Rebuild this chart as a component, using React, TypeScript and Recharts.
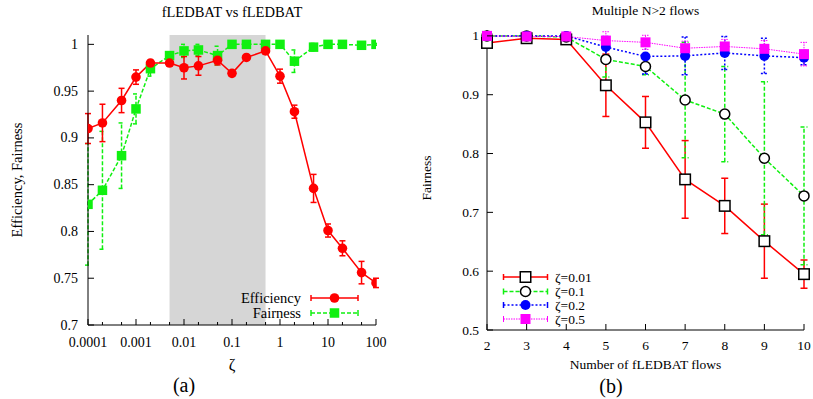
import React from 'react';
import { LineChart, Line, XAxis, YAxis, ErrorBar, ReferenceArea } from 'recharts';

const FONT = '"Liberation Serif", "Times New Roman", serif';

// ---------- Left chart (a): fLEDBAT vs fLEDBAT ----------
const zeta = [0.0001, 0.0002, 0.0005, 0.001, 0.002, 0.005, 0.01, 0.02, 0.05, 0.1, 0.2, 0.5, 1, 2, 5, 10, 20, 50, 100];
const efficiency = [0.910, 0.916, 0.940, 0.965, 0.980, 0.980, 0.975, 0.977, 0.983, 0.969, 0.986, 0.993, 0.966, 0.928, 0.846, 0.801, 0.782, 0.756, 0.745];
const efficiencyErr = [0.016, 0.02, 0.013, 0.0077, 0.003, 0.002, 0.012, 0.01, 0.005, 0.002, 0.002, 0.002, 0.0075, 0.007, 0.015, 0.007, 0.008, 0.012, 0.005];
const fairness = [0.829, 0.844, 0.881, 0.931, 0.974, 0.988, 0.993, 0.994, 0.988, 1.0, 1.0, 1.0, 1.0, 0.982, 0.997, 1.0, 1.0, 0.999, 1.0];
const fairnessErr = [0.065, 0.063, 0.035, 0.016, 0.008, 0.002, 0.007, 0.006, 0.01, 0.001, 0.001, 0.001, 0.001, 0.012, 0.004, 0.001, 0.001, 0.001, 0.001];
const zetaMajorTicks = [0.0001, 0.001, 0.01, 0.1, 1, 10, 100];
const zetaMajorLabels = ['0.0001', '0.001', '0.01', '0.1', '1', '10', '100'];
const zetaMinorTicks = [0.0002, 0.0005, 0.002, 0.005, 0.02, 0.05, 0.2, 0.5, 2, 5, 20, 50];
const leftYTicks = [0.7, 0.75, 0.8, 0.85, 0.9, 0.95, 1];
const leftYLabels = ['0.7', '0.75', '0.8', '0.85', '0.9', '0.95', '1'];
const leftYDomain = [0.7, 1.01];
const zetaDomain = [0.0001, 100];
const shadedRange = [0.005, 0.5];
const leftSeriesNames = ['Efficiency', 'Fairness'];

// ---------- Right chart (b): Multiple N>2 flows ----------
const flows = [2, 3, 4, 5, 6, 7, 8, 9, 10];
const fair001 = [0.988, 0.996, 0.994, 0.916, 0.853, 0.756, 0.711, 0.651, 0.595];
const fair001Err = [0.004, 0.003, 0.003, 0.053, 0.044, 0.066, 0.047, 0.063, 0.024];
const fair01 = [1.0, 1.0, 0.998, 0.960, 0.948, 0.891, 0.867, 0.792, 0.728];
const fair01Err = [0.002, 0.002, 0.003, 0.03, 0.014, 0.098, 0.081, 0.13, 0.117];
const fair02 = [1.0, 1.0, 1.0, 0.981, 0.965, 0.966, 0.971, 0.966, 0.963];
const fair02Err = [0.001, 0.001, 0.001, 0.018, 0.03, 0.032, 0.028, 0.03, 0.012];
const fair05 = [1.0, 0.999, 0.999, 0.992, 0.989, 0.979, 0.982, 0.978, 0.969];
const fair05Err = [0.001, 0.001, 0.001, 0.015, 0.012, 0.012, 0.012, 0.014, 0.02];
const flowTicks = [2, 3, 4, 5, 6, 7, 8, 9, 10];
const rightYTicks = [0.5, 0.6, 0.7, 0.8, 0.9, 1];
const rightYLabels = ['0.5', '0.6', '0.7', '0.8', '0.9', '1'];
const rightYDomain = [0.5, 1.01];
const rightSeriesNames = ['ζ=0.01', 'ζ=0.1', 'ζ=0.2', 'ζ=0.5'];

const leftData = zeta.map((z, i) => ({
  zeta: z,
  eff: efficiency[i],
  effErr: efficiencyErr[i],
  fair: fairness[i],
  fairErr: fairnessErr[i],
}));

const rightData = flows.map((n, i) => ({
  n,
  a: fair001[i],
  aErr: fair001Err[i],
  b: fair01[i],
  bErr: fair01Err[i],
  c: fair02[i],
  cErr: fair02Err[i],
  d: fair05[i],
  dErr: fair05Err[i],
}));

const RED = '#ff0000';
const GREEN = '#10f010';
const BLUE = '#0000ff';
const MAGENTA = '#ff00ff';

const findLabel = (ticks: number[], labels: string[], v: number) => {
  const i = ticks.findIndex((t) => Math.abs(t - v) <= Math.abs(t) * 1e-9);
  return i >= 0 ? labels[i] : undefined;
};

const makeBottomTick = (ticks: number[], labels: string[], margin: number, fontSize: number) => (props: any) => {
  const { x, y, payload } = props;
  const label = findLabel(ticks, labels, payload.value);
  const ay = y - margin;
  const len = label !== undefined ? 6 : 3;
  return (
    <g>
      <line x1={x} x2={x} y1={ay} y2={ay - len} stroke="#000" strokeWidth={1} />
      {label !== undefined && (
        <text x={x} y={y} textAnchor="middle" dominantBaseline="central" fontFamily={FONT} fontSize={fontSize} fill="#000">
          {label}
        </text>
      )}
    </g>
  );
};

const makeTopTick = (ticks: number[]) => (props: any) => {
  const { x, y, payload } = props;
  const major = findLabel(ticks, ticks.map(String), payload.value) !== undefined;
  return <line x1={x} x2={x} y1={y} y2={y + (major ? 6 : 3)} stroke="#000" strokeWidth={1} />;
};

const makeLeftTick = (ticks: number[], labels: string[], margin: number, fontSize: number) => (props: any) => {
  const { x, y, payload } = props;
  const label = findLabel(ticks, labels, payload.value);
  const ax = x + margin;
  return (
    <g>
      <line x1={ax} x2={ax + 6} y1={y} y2={y} stroke="#000" strokeWidth={1} />
      <text x={x} y={y} textAnchor="end" dominantBaseline="central" fontFamily={FONT} fontSize={fontSize} fill="#000">
        {label}
      </text>
    </g>
  );
};

const RightTick = (props: any) => {
  const { x, y } = props;
  return <line x1={x} x2={x - 6} y1={y} y2={y} stroke="#000" strokeWidth={1} />;
};

const circleDot = (r: number, fill: string, stroke: string, sw: number) => (props: any) => {
  const { cx, cy, index } = props;
  if (cx == null || cy == null) return <g key={`c${index}`} />;
  return <circle key={`c${index}`} cx={cx} cy={cy} r={r} fill={fill} stroke={stroke} strokeWidth={sw} />;
};

const squareDot = (s: number, fill: string, stroke: string, sw: number) => (props: any) => {
  const { cx, cy, index } = props;
  if (cx == null || cy == null) return <g key={`s${index}`} />;
  return <rect key={`s${index}`} x={cx - s / 2} y={cy - s / 2} width={s} height={s} fill={fill} stroke={stroke} strokeWidth={sw} />;
};

const allZetaTicks = [...zetaMajorTicks, ...zetaMinorTicks].sort((a, b) => a - b);

function LeftChart() {
  return (
    <LineChart width={400} height={399} data={leftData} margin={{ top: 35, right: 24, bottom: 44, left: 0 }}>
      <ReferenceArea x1={shadedRange[0]} x2={shadedRange[1]} fill="#d6d6d6" fillOpacity={1} stroke="none" ifOverflow="visible" />
      <XAxis
        dataKey="zeta"
        type="number"
        scale="log"
        domain={zetaDomain}
        allowDataOverflow
        ticks={allZetaTicks}
        interval={0}
        height={30}
        tickSize={0}
        tickMargin={17}
        tickLine={false}
        axisLine={{ stroke: '#000', strokeWidth: 1 }}
        tick={makeBottomTick(zetaMajorTicks, zetaMajorLabels, 17, 14)}
      />
      <XAxis
        xAxisId="top"
        orientation="top"
        dataKey="zeta"
        type="number"
        scale="log"
        domain={zetaDomain}
        allowDataOverflow
        ticks={allZetaTicks}
        interval={0}
        height={0}
        tickSize={0}
        tickMargin={0}
        tickLine={false}
        axisLine={{ stroke: '#000', strokeWidth: 1 }}
        tick={makeTopTick(zetaMajorTicks)}
      />
      <YAxis
        type="number"
        domain={leftYDomain}
        allowDataOverflow
        ticks={leftYTicks}
        interval={0}
        width={88}
        tickSize={0}
        tickMargin={10}
        tickLine={false}
        axisLine={{ stroke: '#000', strokeWidth: 1 }}
        tick={makeLeftTick(leftYTicks, leftYLabels, 10, 14)}
      />
      <YAxis
        yAxisId="right"
        orientation="right"
        type="number"
        domain={leftYDomain}
        allowDataOverflow
        ticks={leftYTicks}
        interval={0}
        width={0}
        tickSize={0}
        tickMargin={0}
        tickLine={false}
        axisLine={{ stroke: '#000', strokeWidth: 1 }}
        tick={RightTick}
      />
      <Line
        dataKey="fair"
        name={leftSeriesNames[1]}
        stroke={GREEN}
        strokeWidth={1.5}
        strokeDasharray="4 2"
        isAnimationActive={false}
        dot={squareDot(9.5, GREEN, 'none', 0)}
      >
        <ErrorBar dataKey="fairErr" direction="y" width={3} stroke={GREEN} strokeWidth={1.5} strokeDasharray="4 2" isAnimationActive={false} />
      </Line>
      <Line
        dataKey="eff"
        name={leftSeriesNames[0]}
        stroke={RED}
        strokeWidth={1.5}
        isAnimationActive={false}
        dot={circleDot(4.8, RED, 'none', 0)}
      >
        <ErrorBar dataKey="effErr" direction="y" width={3} stroke={RED} strokeWidth={1.5} isAnimationActive={false} />
      </Line>
    </LineChart>
  );
}

function RightChart() {
  return (
    <LineChart width={413} height={399} data={rightData} margin={{ top: 30, right: 9, bottom: 39, left: 0 }}>
      <XAxis
        dataKey="n"
        type="number"
        domain={[flowTicks[0], flowTicks[flowTicks.length - 1]]}
        ticks={flowTicks}
        interval={0}
        height={30}
        tickSize={0}
        tickMargin={15}
        tickLine={false}
        axisLine={{ stroke: '#000', strokeWidth: 1 }}
        tick={makeBottomTick(flowTicks, flowTicks.map(String), 15, 13.5)}
      />
      <XAxis
        xAxisId="top"
        orientation="top"
        dataKey="n"
        type="number"
        domain={[flowTicks[0], flowTicks[flowTicks.length - 1]]}
        ticks={flowTicks}
        interval={0}
        height={0}
        tickSize={0}
        tickMargin={0}
        tickLine={false}
        axisLine={{ stroke: '#000', strokeWidth: 1 }}
        tick={makeTopTick(flowTicks)}
      />
      <YAxis
        type="number"
        domain={rightYDomain}
        allowDataOverflow
        ticks={rightYTicks}
        interval={0}
        width={87}
        tickSize={0}
        tickMargin={8}
        tickLine={false}
        axisLine={{ stroke: '#000', strokeWidth: 1 }}
        tick={makeLeftTick(rightYTicks, rightYLabels, 8, 13.5)}
      />
      <YAxis
        yAxisId="right"
        orientation="right"
        type="number"
        domain={rightYDomain}
        allowDataOverflow
        ticks={rightYTicks}
        interval={0}
        width={0}
        tickSize={0}
        tickMargin={0}
        tickLine={false}
        axisLine={{ stroke: '#000', strokeWidth: 1 }}
        tick={RightTick}
      />
      <Line dataKey="a" name={rightSeriesNames[0]} stroke={RED} strokeWidth={1.5} isAnimationActive={false} dot={squareDot(10.5, '#fff', '#000', 1.5)}>
        <ErrorBar dataKey="aErr" direction="y" width={3.5} stroke={RED} strokeWidth={1.5} isAnimationActive={false} />
      </Line>
      <Line dataKey="b" name={rightSeriesNames[1]} stroke={GREEN} strokeWidth={1.5} strokeDasharray="4 2" isAnimationActive={false} dot={circleDot(5, '#fff', '#000', 1.5)}>
        <ErrorBar dataKey="bErr" direction="y" width={3.5} stroke={GREEN} strokeWidth={1.5} strokeDasharray="4 2" isAnimationActive={false} />
      </Line>
      <Line dataKey="c" name={rightSeriesNames[2]} stroke={BLUE} strokeWidth={1.5} strokeDasharray="2 2" isAnimationActive={false} dot={circleDot(5, BLUE, 'none', 0)}>
        <ErrorBar dataKey="cErr" direction="y" width={3.5} stroke={BLUE} strokeWidth={1.5} strokeDasharray="2 2" isAnimationActive={false} />
      </Line>
      <Line dataKey="d" name={rightSeriesNames[3]} stroke={MAGENTA} strokeWidth={1} strokeDasharray="1.5 1" isAnimationActive={false} dot={squareDot(10, MAGENTA, 'none', 0)}>
        <ErrorBar dataKey="dErr" direction="y" width={3.5} stroke={MAGENTA} strokeWidth={1} strokeDasharray="1.5 1" isAnimationActive={false} />
      </Line>
    </LineChart>
  );
}

type LegendItem = { name: string; color: string; dash?: string; sw: number; marker: (cx: number, cy: number) => React.ReactNode };

const LegendRow = ({ item, x1, x2, y }: { item: LegendItem; x1: number; x2: number; y: number }) => (
  <g>
    <line x1={x1} x2={x2} y1={y} y2={y} stroke={item.color} strokeWidth={item.sw} strokeDasharray={item.dash} />
    <line x1={x1} x2={x1} y1={y - 3} y2={y + 3} stroke={item.color} strokeWidth={item.sw} />
    <line x1={x2} x2={x2} y1={y - 3} y2={y + 3} stroke={item.color} strokeWidth={item.sw} />
    {item.marker((x1 + x2) / 2, y)}
  </g>
);

const leftLegend: LegendItem[] = [
  { name: leftSeriesNames[0], color: RED, sw: 1.5, marker: (cx, cy) => <circle cx={cx} cy={cy} r={4.8} fill={RED} /> },
  { name: leftSeriesNames[1], color: GREEN, sw: 1.5, dash: '4 2', marker: (cx, cy) => <rect x={cx - 4.75} y={cy - 4.75} width={9.5} height={9.5} fill={GREEN} /> },
];

const rightLegend: LegendItem[] = [
  { name: rightSeriesNames[0], color: RED, sw: 1.5, marker: (cx, cy) => <rect x={cx - 5.25} y={cy - 5.25} width={10.5} height={10.5} fill="#fff" stroke="#000" strokeWidth={1.5} /> },
  { name: rightSeriesNames[1], color: GREEN, sw: 1.5, dash: '4 2', marker: (cx, cy) => <circle cx={cx} cy={cy} r={5} fill="#fff" stroke="#000" strokeWidth={1.5} /> },
  { name: rightSeriesNames[2], color: BLUE, sw: 1.5, dash: '2 2', marker: (cx, cy) => <circle cx={cx} cy={cy} r={5} fill={BLUE} /> },
  { name: rightSeriesNames[3], color: MAGENTA, sw: 1, dash: '1.5 1', marker: (cx, cy) => <rect x={cx - 5} y={cy - 5} width={10} height={10} fill={MAGENTA} /> },
];

const T = ({ x, y, size, children, anchor = 'middle', rotate = false }: any) => (
  <text
    x={x}
    y={y}
    fontFamily={FONT}
    fontSize={size}
    fill="#000"
    textAnchor={anchor}
    dominantBaseline="central"
    transform={rotate ? `rotate(-90 ${x} ${y})` : undefined}
  >
    {children}
  </text>
);

export default function App() {
  const leftLegendY = [298, 313];
  const rightLegendY = [277, 291.5, 305, 319];
  return (
    <div style={{ position: 'absolute', left: 0, top: 0, width: 813, height: 399, background: '#fff', overflow: 'hidden' }}>
      <div style={{ position: 'absolute', left: 0, top: 0 }}>
        <LeftChart />
      </div>
      <div style={{ position: 'absolute', left: 400, top: 0 }}>
        <RightChart />
      </div>
      <svg width={813} height={399} style={{ position: 'absolute', left: 0, top: 0, pointerEvents: 'none' }}>
        <T x={232} y={12} size={14.5}>fLEDBAT vs fLEDBAT</T>
        <T x={17} y={180} size={14.5} rotate>Efficiency, Fairness</T>
        <T x={232} y={364} size={16}>ζ</T>
        <T x={184} y={385} size={20}>(a)</T>
        {leftLegend.map((it, i) => (
          <g key={it.name}>
            <LegendRow item={it} x1={311} x2={358} y={leftLegendY[i]} />
            <T x={301} y={leftLegendY[i]} size={14.5} anchor="end">{it.name}</T>
          </g>
        ))}
        <T x={645.5} y={10} size={13.5}>Multiple N&gt;2 flows</T>
        <T x={426} y={178} size={13.5} rotate>Fairness</T>
        <T x={645.5} y={364} size={13.5}>Number of fLEDBAT flows</T>
        <T x={611} y={386} size={20}>(b)</T>
        {rightLegend.map((it, i) => (
          <g key={it.name}>
            <LegendRow item={it} x1={503.5} x2={547.5} y={rightLegendY[i]} />
            <T x={555} y={rightLegendY[i]} size={13.5} anchor="start">{it.name}</T>
          </g>
        ))}
      </svg>
    </div>
  );
}
